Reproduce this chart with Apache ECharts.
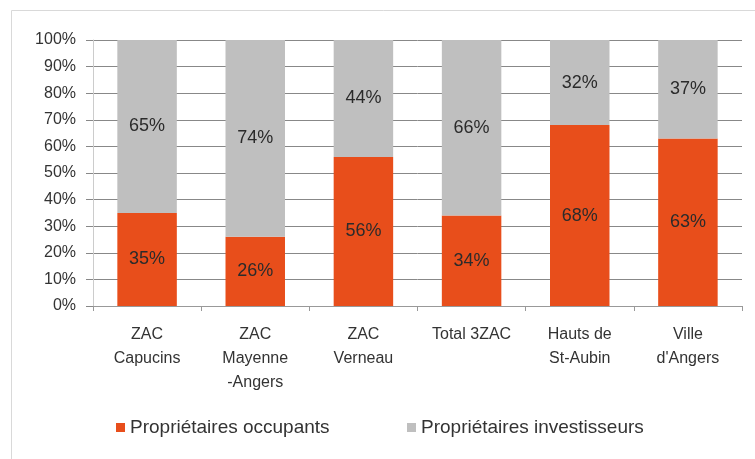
<!DOCTYPE html>
<html><head><meta charset="utf-8">
<script src="https://cdn.jsdelivr.net/npm/echarts@6/dist/echarts.min.js"></script>
<style>html,body{margin:0;padding:0;background:#fff}#c{width:755px;height:459px}</style>
</head><body><div id="c"></div>
<script>
const categories = ["ZAC\nCapucins", "ZAC\nMayenne\n-Angers", "ZAC\nVerneau", "Total 3ZAC", "Hauts de\nSt-Aubin", "Ville\nd'Angers"];
const occupants = [35, 26, 56, 34, 68, 63];
const investisseurs = [65, 74, 44, 66, 32, 37];
const seriesNames = ["Propriétaires occupants", "Propriétaires investisseurs"];

const chart = echarts.init(document.getElementById('c'), null, {renderer: 'canvas'});
const font = 'Liberation Sans, Arial, sans-serif';
const legendText = {fontSize: 19, color: '#333', fontFamily: font};
chart.setOption({
  animation: false,
  textStyle: {fontFamily: font},
  graphic: [{type: 'rect', shape: {x: 11.5, y: 10.5, width: 760, height: 470}, style: {fill: 'none', stroke: '#d9d9d9', lineWidth: 1}, z: -1}],
  grid: {left: 93, right: 13, top: 40, bottom: 153},
  legend: [
    {left: 111, top: 413, itemWidth: 9, itemHeight: 9, itemGap: 0, icon: 'rect', textStyle: legendText, data: [seriesNames[0]]},
    {left: 402, top: 413, itemWidth: 9, itemHeight: 9, itemGap: 0, icon: 'rect', textStyle: legendText, data: [seriesNames[1]]}
  ],
  xAxis: {
    type: 'category', data: categories,
    axisLine: {lineStyle: {color: '#999'}},
    axisTick: {show: true, length: 5, lineStyle: {color: '#999'}},
    axisLabel: {fontSize: 16, color: '#333', lineHeight: 24, margin: 17, interval: 0}
  },
  yAxis: {
    type: 'value', min: 0, max: 100, interval: 10,
    axisLine: {show: true, lineStyle: {color: '#ccc'}},
    axisTick: {show: true, length: 7, lineStyle: {color: '#888'}},
    splitLine: {lineStyle: {color: '#888'}},
    axisLabel: {formatter: '{value}%', fontSize: 16, color: '#333', margin: 17}
  },
  series: [
    {name: seriesNames[0], type: 'bar', stack: 'a', data: occupants, barWidth: '55%',
     itemStyle: {color: '#E84E1B'},
     label: {show: true, position: 'inside', formatter: '{c}%', fontSize: 18, color: '#2b2b2b'}},
    {name: seriesNames[1], type: 'bar', stack: 'a', data: investisseurs, barWidth: '55%',
     itemStyle: {color: '#BFBFBF'},
     label: {show: true, position: 'inside', formatter: '{c}%', fontSize: 18, color: '#2b2b2b'}}
  ]
});
</script></body></html>
